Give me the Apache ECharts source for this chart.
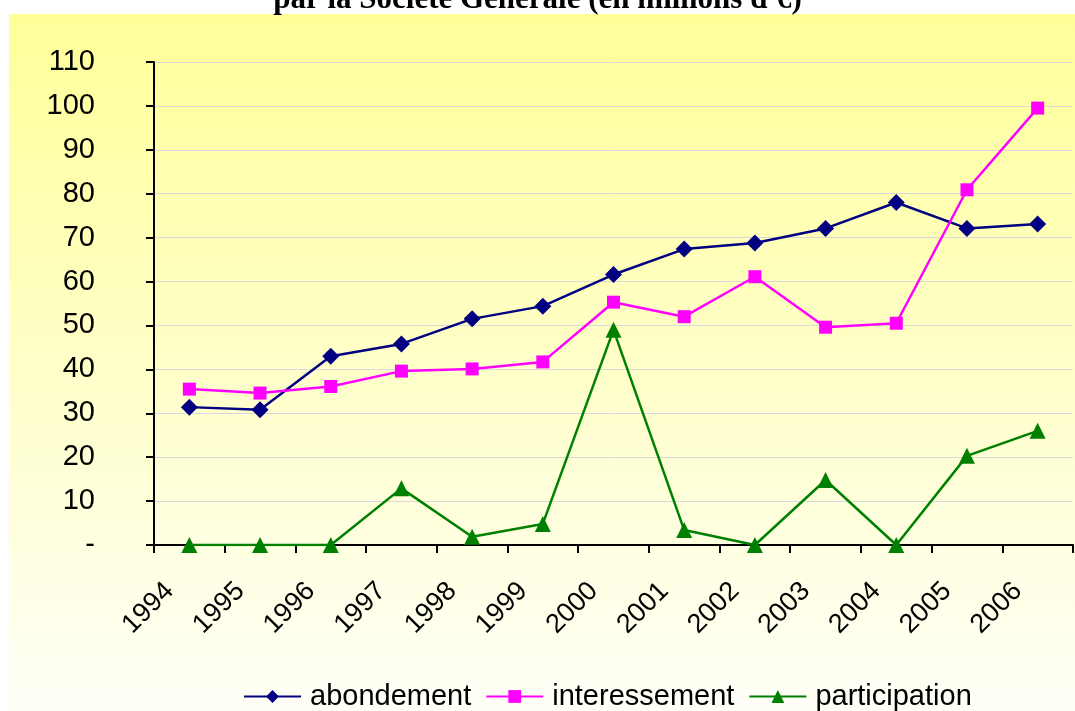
<!DOCTYPE html>
<html>
<head>
<meta charset="utf-8">
<script src="https://cdn.jsdelivr.net/npm/echarts@6/dist/echarts.min.js"></script>
<style>
	html, body { margin: 0; padding: 0; background: #ffffff; }
	#main { width: 1075px; height: 711px; }
</style>
</head>
<body>
<div id="main"></div>
<script>
	// données (millions d'€)
	var years = ['1994', '1995', '1996', '1997', '1998', '1999', '2000', '2001', '2002', '2003', '2004', '2005', '2006'];
	var abondement = [31.4, 30.8, 43.0, 45.8, 51.5, 54.4, 61.6, 67.4, 68.8, 72.1, 78.0, 72.1, 73.1];
	var interessement = [35.5, 34.6, 36.1, 39.6, 40.1, 41.7, 55.3, 52.0, 61.1, 49.6, 50.5, 80.9, 99.5];
	var participation = [0, 0, 0, 12.9, 1.9, 4.8, 49.0, 3.4, 0, 14.8, 0, 20.3, 26.0];

	var font = 'Liberation Sans, Arial, sans-serif';

	var myChart = echarts.init(document.getElementById('main'));
	var option = {
		animation: false,
		title: {
			text: "par la Société Générale (en millions d'€)",
			left: 'center',
			top: -21,
			textStyle: {
				fontFamily: 'Liberation Serif, Times New Roman, serif',
				fontWeight: 'bold',
				fontSize: 31,
				color: '#000'
			}
		},
		graphic: [{
			type: 'rect',
			z: -10,
			shape: { x: 9, y: 14, width: 1066, height: 697 },
			style: {
				fill: new echarts.graphic.LinearGradient(0, 0, 0, 1, [
					{ offset: 0, color: '#ffff99' },
					{ offset: 1, color: '#fffff8' }
				])
			}
		}],
		legend: {
			bottom: -5,
			left: 238,
			itemWidth: 57,
			itemHeight: 16,
			itemGap: 14,
			textStyle: { fontFamily: font, fontSize: 29, color: '#000', padding: [0, 0, 0, 4] },
			data: ['abondement', 'interessement', 'participation']
		},
		grid: { left: 154, right: 2, top: 62, bottom: 166 },
		xAxis: {
			type: 'category',
			data: years,
			boundaryGap: true,
			axisLine: { lineStyle: { color: '#000', width: 2 } },
			axisTick: { show: true, length: 8, lineStyle: { color: '#000', width: 2 } },
			axisLabel: {
				rotate: 45,
				margin: 22,
				padding: [0, 28, 0, 0],
				interval: 0,
				fontFamily: font,
				fontSize: 27,
				color: '#000'
			},
			splitLine: { show: false }
		},
		yAxis: {
			type: 'value',
			min: 0,
			max: 110,
			interval: 10,
			axisLine: { show: true, lineStyle: { color: '#000', width: 2 } },
			axisTick: { show: true, length: 8, lineStyle: { color: '#000', width: 2 } },
			axisLabel: {
				margin: 59,
				fontFamily: font,
				fontSize: 29,
				color: '#000',
				formatter: function (v) { return v === 0 ? '-' : v; }
			},
			splitLine: { lineStyle: { color: '#d9d9d9', width: 1 } }
		},
		series: [
			{
				name: 'abondement',
				type: 'line',
				data: abondement,
				symbol: 'diamond',
				symbolSize: 17,
				itemStyle: { color: '#000080' },
				lineStyle: { color: '#000080', width: 2.5 }
			},
			{
				name: 'interessement',
				type: 'line',
				data: interessement,
				symbol: 'rect',
				symbolSize: 13,
				itemStyle: { color: '#ff00ff' },
				lineStyle: { color: '#ff00ff', width: 2.5 }
			},
			{
				name: 'participation',
				type: 'line',
				data: participation,
				symbol: 'triangle',
				symbolSize: 16,
				itemStyle: { color: '#008000' },
				lineStyle: { color: '#008000', width: 2.5 }
			}
		]
	};
	myChart.setOption(option);
</script>
</body>
</html>
